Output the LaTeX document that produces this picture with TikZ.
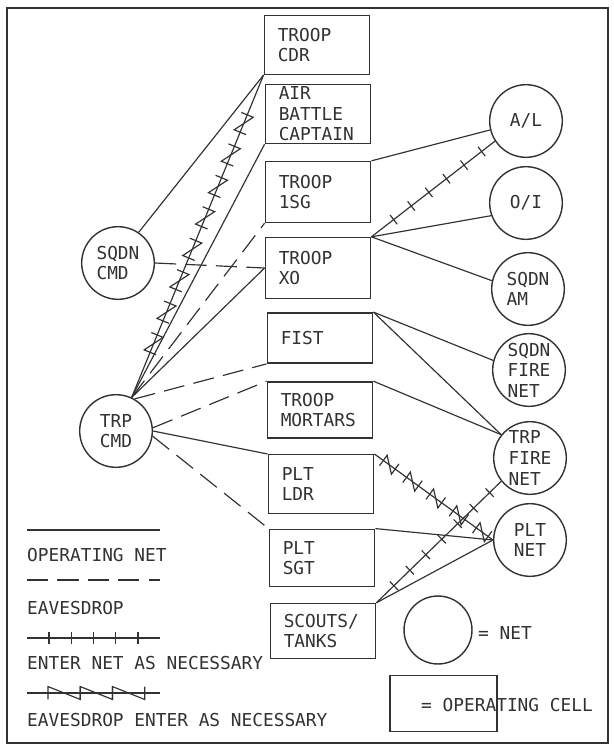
\documentclass[tikz,border=0pt]{standalone}
\usepackage{fontspec}
\newfontfamily\netfont{DejaVu Sans Mono}
\usepackage{tikz}
\usetikzlibrary{shapes, arrows, positioning, decorations.markings}

\definecolor{ink}{RGB}{50,50,50}

\tikzset{
  lbl/.style={font=\netfont\fontsize{15.2}{17.5}\selectfont, text=ink},
  net/.style={draw=ink, line width=1.2pt, circle, minimum size=62pt, inner sep=0pt, align=left, lbl},
  cell/.style={draw=ink, line width=1.2pt, rectangle, text width=67pt, inner xsep=11.5pt, inner ysep=2pt, minimum height=50pt, align=left, lbl},
  opnet/.style={draw=ink, line width=1pt},
  eaves/.style={opnet, dash pattern=on 18pt off 8pt},
  enternet/.style={opnet, postaction={decorate, decoration={markings,
      mark=between positions #1 step 19pt with {\draw[opnet] (0,-5pt) -- (0,5pt);}}}},
  eavesenter/.style n args={3}{opnet, postaction={decorate, decoration={markings,
      mark=between positions #1 step #2 with {\draw[opnet] (0,-5.5pt) -- (0,5.5pt) -- (#3,-5.5pt) -- (#3,5.5pt);}}}},
  keytext/.style={lbl, anchor=west, inner sep=0pt},
}

\begin{document}
\begin{tikzpicture}[x=0.03cm, y=-0.03cm]
  \fill[white] (0,0) rectangle (614,749);
  \useasboundingbox (0,0) rectangle (614,749);
  % Khung
  \draw[ink, line width=1.6pt] (7,8) rectangle (608,743);

  % Các ô
  \node[cell] (cdr) at (317,45) {TROOP\\CDR};
  \node[cell] (abc) at (318,114) {AIR\\BATTLE\\CAPTAIN};
  \node[cell, minimum height=52pt] (fsg) at (318,192) {TROOP\\1SG};
  \node[cell, minimum height=52pt] (xo) at (318,268) {TROOP\\XO};
  \node[cell, minimum height=43pt] (fist) at (320,338) {FIST};
  \node[cell, minimum height=48pt] (mort) at (320,410) {TROOP\\MORTARS};
  \node[cell] (ldr) at (321,484) {PLT\\LDR};
  \node[cell, minimum height=49pt] (sgt) at (322,558) {PLT\\SGT};
  \node[cell, minimum height=47pt] (scout) at (323,631) {SCOUTS/\\TANKS};

  % Các mạng
  \node[net] (sqdn) at (118,263) {SQDN\\CMD};
  \node[net] (trp) at (116,431) {TRP\\CMD};
  \node[net] (al) at (526,121) {A/L};
  \node[net] (oi) at (526,203) {O/I};
  \node[net] (am) at (528,289) {SQDN\\AM};
  \node[net] (sqfire) at (529,370) {SQDN\\FIRE\\NET};
  \node[net] (trpfire) at (530,458) {TRP\\FIRE\\NET};
  \node[net] (plt) at (530,540) {PLT\\NET};

  % Bên trái
  \draw[opnet] (sqdn.56) -- (cdr.south west);
  \draw[eaves] (sqdn.east) -- (xo.west);
  \draw[eavesenter={0.14 and 0.87}{29pt}{16pt}] (trp.65) -- (cdr.south west);
  \draw[opnet] (trp.65) -- (abc.south west);
  \draw[eaves] (trp.65) -- (fsg.south west);
  \draw[opnet] (trp.65) -- (xo.west);
  \draw[eaves] (trp.60) -- (fist.south west);
  \draw[eaves] (trp.5) -- (mort.north west);
  \draw[opnet] (trp.0) -- (ldr.north west);
  \draw[eaves] (trp.-8) -- (sgt.north west);

  % Bên phải
  \draw[opnet] (fsg.north east) -- (al.194);
  \draw[enternet={0.18 and 0.9}] (xo.north east) -- (al.213);
  \draw[opnet] (xo.north east) -- (oi.200);
  \draw[opnet] (xo.north east) -- (am.167);
  \draw[opnet] (fist.north east) -- (sqfire.165);
  \draw[opnet] (fist.north east) -- (trpfire.141);
  \draw[opnet] (mort.north east) -- (trpfire.141);
  \draw[eavesenter={0.075 and 0.9}{24.5pt}{12.5pt}] (ldr.north east) -- (plt.180);
  \draw[opnet] (sgt.north east) -- (plt.180);
  \draw[opnet] (scout.north east) -- (plt.180);
  \draw[enternet={0.14 and 0.92}] (scout.north east) -- (trpfire.219);

  % Chú thích
  \draw[opnet] (27,530) -- (160,530);
  \node[keytext] at (27,555) {OPERATING NET};
  \draw[eaves] (27,580) -- (160,580);
  \node[keytext] at (27,608) {EAVESDROP};
  \draw[enternet={0.165 and 0.85}] (27,638) -- (160,638);
  \node[keytext] at (27,663) {ENTER NET AS NECESSARY};
  \draw[eavesenter={0.158 and 0.7}{27.5pt}{27.5pt}] (27,693) -- (160,693);
  \node[keytext] at (27,720) {EAVESDROP ENTER AS NECESSARY};

  \node[net, minimum size=58pt] (netkey) at (438,630) {};
  \node[keytext] (netkeytxt) at (478,633) {= NET};
  \node[draw=ink, line width=1.2pt, minimum width=91pt, minimum height=48pt] (cellkey) at (443.5,703.5) {};
  \node[keytext] (cellkeytxt) at (421,705) {= OPERATING CELL};
\end{tikzpicture}
\end{document}
